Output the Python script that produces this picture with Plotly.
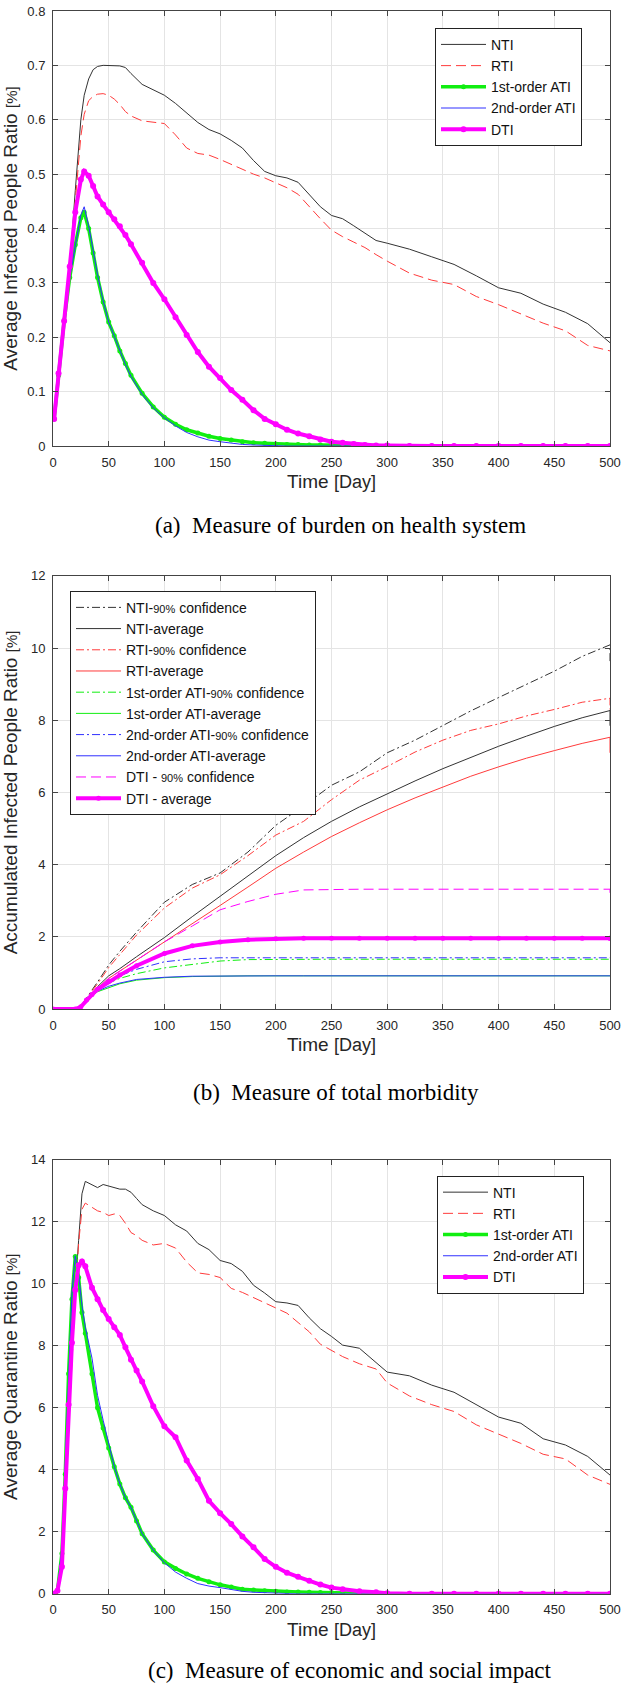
import plotly.graph_objects as go

# ---- (a) average infected people ratio [%] ----
days_a = [1, 5, 10, 15, 20, 25, 28, 32, 36, 40, 45, 50, 55, 60, 65, 70, 80, 90, 100, 110,
          120, 130, 140, 150, 160, 170, 180, 190, 200, 210, 220, 230, 240, 250, 260, 270,
          280, 290, 300, 320, 340, 360, 380, 400, 420, 440, 460, 480, 500]
nti_a = [0.05, 0.13, 0.23, 0.33, 0.47, 0.60, 0.645, 0.675, 0.692, 0.698, 0.700, 0.700, 0.699,
         0.699, 0.696, 0.685, 0.665, 0.655, 0.645, 0.630, 0.612, 0.595, 0.582, 0.574, 0.562,
         0.548, 0.525, 0.505, 0.497, 0.493, 0.485, 0.462, 0.440, 0.424, 0.418, 0.405, 0.392,
         0.378, 0.373, 0.362, 0.348, 0.334, 0.313, 0.291, 0.281, 0.261, 0.246, 0.225, 0.190]
rti_a = [0.05, 0.13, 0.23, 0.32, 0.45, 0.57, 0.61, 0.635, 0.643, 0.647, 0.648, 0.645, 0.638,
         0.628, 0.615, 0.607, 0.598, 0.596, 0.593, 0.572, 0.548, 0.538, 0.535, 0.527, 0.518,
         0.509, 0.500, 0.493, 0.484, 0.475, 0.463, 0.440, 0.418, 0.397, 0.385, 0.375, 0.365,
         0.352, 0.340, 0.318, 0.305, 0.297, 0.275, 0.260, 0.243, 0.226, 0.212, 0.185, 0.175]
ati1_a = [0.05, 0.13, 0.23, 0.31, 0.37, 0.42, 0.43, 0.40, 0.355, 0.31, 0.265, 0.228, 0.203,
          0.175, 0.152, 0.130, 0.097, 0.072, 0.053, 0.040, 0.030, 0.024, 0.018, 0.014, 0.011,
          0.008, 0.006, 0.005, 0.004, 0.003, 0.003, 0.002, 0.002, 0.002, 0.001, 0.001, 0.001,
          0.001, 0, 0, 0, 0, 0, 0, 0, 0, 0, 0, 0]
ati2_a = [0.05, 0.13, 0.23, 0.31, 0.37, 0.425, 0.44, 0.405, 0.36, 0.315, 0.267, 0.228, 0.202,
          0.174, 0.150, 0.128, 0.095, 0.070, 0.052, 0.037, 0.025, 0.017, 0.011, 0.008, 0.005,
          0.003, 0.002, 0.001, 0.001, 0, 0, 0, 0, 0, 0, 0, 0,
          0, 0, 0, 0, 0, 0, 0, 0, 0, 0, 0, 0]
dti_a = [0.05, 0.134, 0.23, 0.33, 0.43, 0.49, 0.505, 0.497, 0.478, 0.459, 0.444, 0.430, 0.417,
         0.404, 0.388, 0.371, 0.337, 0.300, 0.270, 0.237, 0.204, 0.173, 0.146, 0.125, 0.103,
         0.085, 0.066, 0.050, 0.040, 0.030, 0.023, 0.018, 0.012, 0.008, 0.006, 0.004, 0.002,
         0.001, 0.001, 0, 0, 0, 0, 0, 0, 0, 0, 0, 0]

# ---- (b) accumulated infected people ratio [%] ----
days_b = [0, 20, 25, 30, 35, 40, 50, 60, 75, 100, 125, 150, 175, 200, 225, 250, 275, 300,
          325, 350, 375, 400, 425, 450, 475, 500, 500]
nti_conf_b = [0, 0, 0.08, 0.30, 0.50, 0.75, 1.22, 1.60, 2.13, 2.96, 3.45, 3.77, 4.35, 5.09,
              5.63, 6.20, 6.57, 7.10, 7.45, 7.85, 8.26, 8.63, 8.99, 9.36, 9.77, 10.09, 9.6]
nti_avg_b = [0, 0, 0.06, 0.25, 0.45, 0.62, 0.92, 1.12, 1.45, 1.98, 2.56, 3.13, 3.70, 4.25,
             4.75, 5.20, 5.60, 5.97, 6.32, 6.66, 6.98, 7.28, 7.56, 7.83, 8.07, 8.27, 7.85]
rti_conf_b = [0, 0, 0.08, 0.28, 0.48, 0.70, 1.15, 1.52, 2.05, 2.80, 3.35, 3.72, 4.25, 4.82,
              5.20, 5.80, 6.34, 6.72, 7.12, 7.45, 7.72, 7.90, 8.12, 8.30, 8.50, 8.61, 8.3]
rti_avg_b = [0, 0, 0.06, 0.24, 0.42, 0.58, 0.85, 1.05, 1.35, 1.86, 2.35, 2.87, 3.38, 3.90,
             4.35, 4.78, 5.16, 5.52, 5.85, 6.16, 6.45, 6.71, 6.95, 7.16, 7.36, 7.53, 7.1]
ati1_conf_b = [0, 0, 0.06, 0.24, 0.40, 0.55, 0.72, 0.85, 0.98, 1.14, 1.23, 1.33, 1.37, 1.38,
               1.38, 1.38, 1.38, 1.38, 1.38, 1.38, 1.38, 1.38, 1.38, 1.38, 1.38, 1.38, 1.38]
ati1_avg_b = [0, 0, 0.06, 0.23, 0.37, 0.48, 0.60, 0.70, 0.80, 0.87, 0.90, 0.915, 0.92, 0.92,
              0.92, 0.92, 0.92, 0.92, 0.92, 0.92, 0.92, 0.92, 0.92, 0.92, 0.92, 0.92, 0.92]
ati2_conf_b = [0, 0, 0.06, 0.24, 0.40, 0.56, 0.75, 0.92, 1.10, 1.31, 1.39, 1.42, 1.42, 1.42,
               1.42, 1.42, 1.42, 1.42, 1.42, 1.42, 1.42, 1.42, 1.42, 1.42, 1.42, 1.42, 1.42]
ati2_avg_b = [0, 0, 0.06, 0.24, 0.38, 0.50, 0.63, 0.72, 0.82, 0.88, 0.91, 0.92, 0.92, 0.92,
              0.92, 0.92, 0.92, 0.92, 0.92, 0.92, 0.92, 0.92, 0.92, 0.92, 0.92, 0.92, 0.92]
dti_conf_b = [0, 0, 0.06, 0.24, 0.42, 0.58, 0.85, 1.05, 1.35, 1.86, 2.30, 2.75, 2.98, 3.18,
              3.30, 3.32, 3.32, 3.32, 3.32, 3.32, 3.32, 3.32, 3.32, 3.32, 3.32, 3.32, 3.1]
dti_avg_b = [0, 0, 0.06, 0.25, 0.40, 0.55, 0.76, 0.94, 1.20, 1.54, 1.75, 1.86, 1.92, 1.95,
             1.96, 1.96, 1.96, 1.96, 1.96, 1.96, 1.96, 1.96, 1.96, 1.96, 1.96, 1.96, 1.96]

# ---- (c) average quarantine ratio [%] ----
days_c = [0, 4, 8, 11, 14, 17, 20, 23, 26, 29, 35, 40, 45, 50, 55, 60, 65, 70, 75, 80, 90,
          100, 110, 120, 130, 140, 150, 160, 170, 180, 190, 200, 210, 220, 230, 240, 250,
          260, 275, 290, 300, 320, 340, 360, 380, 400, 420, 440, 460, 480, 500]
nti_c = [0, 0, 1.0, 3.2, 5.6, 7.8, 9.8, 11.4, 12.9, 13.3, 13.2, 13.1, 13.2, 13.15, 13.1, 13.05,
         13.05, 12.95, 12.75, 12.55, 12.35, 12.2, 11.9, 11.7, 11.3, 11.1, 10.75, 10.65, 10.4,
         9.95, 9.7, 9.42, 9.38, 9.3, 8.9, 8.55, 8.3, 8.02, 7.92, 7.45, 7.15, 7.03, 6.73, 6.5,
         6.1, 5.7, 5.5, 5.0, 4.8, 4.43, 3.83]
rti_c = [0, 0, 0.9, 3.0, 5.4, 7.6, 9.6, 11.3, 12.4, 12.6, 12.45, 12.35, 12.3, 12.2, 12.25, 12.2,
         11.95, 11.65, 11.55, 11.4, 11.25, 11.3, 11.15, 10.7, 10.35, 10.3, 10.2, 9.85, 9.72,
         9.55, 9.38, 9.22, 9.05, 8.75, 8.45, 8.05, 7.85, 7.65, 7.42, 7.25, 6.8, 6.38, 6.1,
         5.88, 5.45, 5.15, 4.85, 4.5, 4.35, 3.83, 3.53]
ati1_c = [0, 0.1, 1.3, 3.86, 7.1, 9.5, 10.88, 10.2, 9.07, 8.4, 7.1, 6.0, 5.35, 4.7, 4.1, 3.54,
          3.1, 2.79, 2.35, 1.94, 1.41, 1.03, 0.82, 0.64, 0.5, 0.39, 0.29, 0.22, 0.15, 0.12,
          0.1, 0.08, 0.06, 0.06, 0.05, 0.04, 0.04, 0.03, 0.02, 0.01, 0, 0, 0, 0, 0, 0, 0, 0,
          0, 0, 0]
ati2_c = [0, 0.1, 1.5, 4.2, 7.3, 9.7, 10.9, 10.3, 9.3, 8.6, 7.6, 6.4, 5.6, 4.85, 4.1, 3.55,
          3.1, 2.79, 2.35, 1.94, 1.41, 1.0, 0.7, 0.5, 0.33, 0.25, 0.2, 0.14, 0.08, 0.05, 0.03,
          0.02, 0.01, 0, 0, 0, 0, 0, 0, 0, 0, 0, 0, 0, 0, 0, 0, 0, 0, 0, 0]
dti_c = [0, 0.1, 0.87, 3.4, 6.1, 8.1, 9.8, 10.6, 10.72, 10.56, 9.87, 9.5, 9.15, 8.86, 8.6, 8.35,
         7.95, 7.55, 7.2, 6.85, 6.05, 5.4, 5.05, 4.3, 3.7, 3.0, 2.6, 2.25, 1.85, 1.5, 1.12,
         0.87, 0.68, 0.55, 0.42, 0.3, 0.2, 0.15, 0.08, 0.05, 0.02, 0, 0, 0, 0, 0, 0, 0, 0, 0, 0]

BLACK = '#333333'
RED = '#ff3b3b'
GREEN = '#11ee11'
BLUE = '#3030ff'
MAGENTA = '#ff00ff'
DASH = '10px,5px'
DASHDOT = '8px,3px,2px,3px'
small = lambda s: '<span style="font-size:11px">' + s + '</span>'

fig = go.Figure()


def add(x, y, name, color, width=1, dash='solid', ax=1, legend='legend', marker=None):
    mode = 'lines+markers' if marker else 'lines'
    fig.add_trace(go.Scatter(
        x=x, y=y, name=name, mode=mode, legend=legend,
        xaxis='x' if ax == 1 else 'x%d' % ax, yaxis='y' if ax == 1 else 'y%d' % ax,
        line=dict(color=color, width=width, dash=dash),
        marker=dict(color=color, size=marker or 0)))


# 1. burden on health system
add(days_a, nti_a, 'NTI', BLACK)
add(days_a, rti_a, 'RTI', RED, dash=DASH)
add(days_a, ati1_a, '1st-order ATI', GREEN, width=3.5, marker=5)
add(days_a, ati2_a, '2nd-order ATI', BLUE)
add(days_a, dti_a, 'DTI', MAGENTA, width=4, marker=6)

# 2. total morbidity
add(days_b, nti_conf_b, 'NTI-' + small('90%') + ' confidence', BLACK, dash=DASHDOT, ax=2, legend='legend2')
add(days_b, nti_avg_b, 'NTI-average', BLACK, ax=2, legend='legend2')
add(days_b, rti_conf_b, 'RTI-' + small('90%') + ' confidence', RED, dash=DASHDOT, ax=2, legend='legend2')
add(days_b, rti_avg_b, 'RTI-average', RED, ax=2, legend='legend2')
add(days_b, ati1_conf_b, '1st-order ATI-' + small('90%') + ' confidence', GREEN, dash=DASHDOT, ax=2, legend='legend2')
add(days_b, ati1_avg_b, '1st-order ATI-average', GREEN, ax=2, legend='legend2')
add(days_b, ati2_conf_b, '2nd-order ATI-' + small('90%') + ' confidence', BLUE, dash=DASHDOT, ax=2, legend='legend2')
add(days_b, ati2_avg_b, '2nd-order ATI-average', BLUE, ax=2, legend='legend2')
add(days_b, dti_conf_b, 'DTI - ' + small('90%') + ' confidence', MAGENTA, dash=DASH, ax=2, legend='legend2')
add(days_b, dti_avg_b, 'DTI - average', MAGENTA, width=4, ax=2, legend='legend2', marker=5)

# 3. economic and social impact
add(days_c, nti_c, 'NTI', BLACK, ax=3, legend='legend3')
add(days_c, rti_c, 'RTI', RED, dash=DASH, ax=3, legend='legend3')
add(days_c, ati1_c, '1st-order ATI', GREEN, width=3.5, ax=3, legend='legend3', marker=5)
add(days_c, ati2_c, '2nd-order ATI', BLUE, ax=3, legend='legend3')
add(days_c, dti_c, 'DTI', MAGENTA, width=4, ax=3, legend='legend3', marker=6)

TXT = '#262626'
axis_font = dict(family='Liberation Sans, Arial', size=19, color=TXT)
tick_font = dict(family='Liberation Sans, Arial', size=13, color=TXT)


def xax(anchor):
    return dict(range=[0, 500], dtick=50, anchor=anchor, ticks='inside', ticklen=5,
                tickcolor='#444', mirror='allticks', showline=True, linecolor='#444',
                gridcolor='#e4e4e4', zeroline=False, tickfont=tick_font, ticklabelstandoff=4,
                ticklabeloverflow='allow',
                title=dict(text='Time <span style="font-size:18px">[Day]</span>',
                           font=axis_font, standoff=6))


def yax(anchor, rng, dtick, dom, title):
    return dict(range=rng, dtick=dtick, domain=dom, anchor=anchor, ticks='inside', ticklen=5,
                tickcolor='#444', mirror='allticks', showline=True, linecolor='#444',
                gridcolor='#e4e4e4', zeroline=False, tickfont=tick_font, ticklabelstandoff=4,
                ticklabeloverflow='allow',
                title=dict(text=title, font=axis_font, standoff=8))


legend_style = dict(bgcolor='white', bordercolor='#222', borderwidth=1, itemwidth=45,
                    font=dict(family='Liberation Sans, Arial', size=14, color='#111'),
                    xanchor='left', yanchor='top', tracegroupgap=0)

H = 1693.0
pct = ' <span style="font-size:15px">[%]</span>'
fig.update_layout(
    width=622, height=1693,
    margin=dict(l=53, r=12, t=0, b=0),
    paper_bgcolor='white', plot_bgcolor='white',
    xaxis=xax('y'), xaxis2=xax('y2'), xaxis3=xax('y3'),
    yaxis=yax('x', [0, 0.8], 0.1, [1 - 443 / H, 1 - 4 / H],
              'Average Infected People Ratio' + pct),
    yaxis2=yax('x2', [0, 12], 2, [1 - 1011 / H, 1 - 574 / H],
               'Accumulated Infected People Ratio' + pct),
    yaxis3=yax('x3', [0, 14], 2, [1 - 1601 / H, 1 - 1163 / H],
               'Average Quarantine Ratio' + pct),
    legend=dict(x=(435 - 53) / 557, y=1 - 21 / H, **legend_style),
    legend2=dict(x=(70 - 53) / 557, y=1 - 589 / H, **legend_style),
    legend3=dict(x=(437 - 53) / 557, y=1 - 1179 / H, **legend_style),
)

# captions under each panel
captions = [('(a)\u00a0 Measure of burden on health system', 0.517, 523),
            ('(b)\u00a0 Measure of total morbidity', 0.508, 1095),
            ('(c)\u00a0 Measure of economic and social impact', 0.533, 1678)]
for text, cx, cy in captions:
    fig.add_annotation(text=text, x=cx, y=1 - cy / H, xref='paper', yref='paper',
                       showarrow=False, xanchor='center', yanchor='middle',
                       font=dict(family='Liberation Serif, Times New Roman', size=23, color='black'))

# page has a default body margin; drop it so the figure sits flush in the window
fig.write_html("out.html", config={'displayModeBar': False},
               post_script="document.body.style.margin='0';document.body.style.overflow='hidden';")
